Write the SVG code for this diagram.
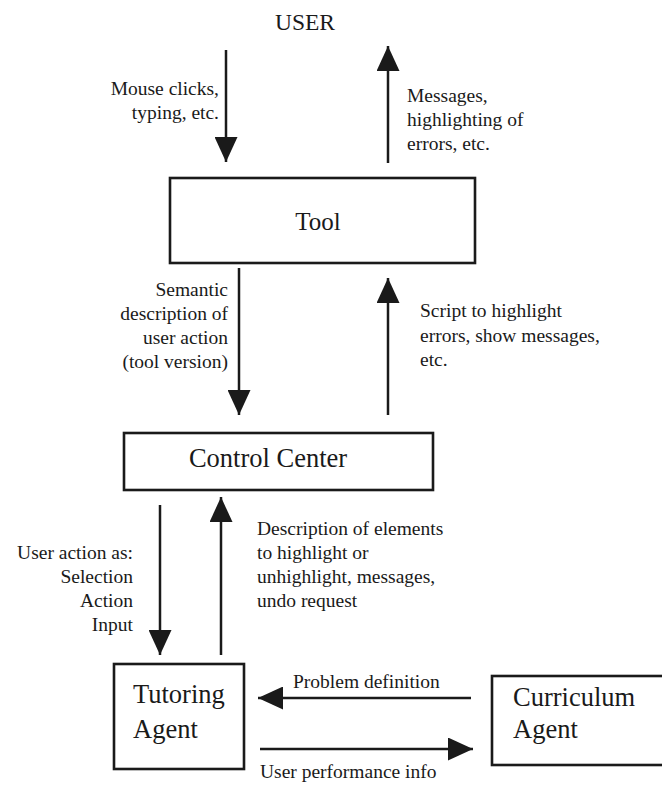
<svg xmlns="http://www.w3.org/2000/svg" width="662" height="786" viewBox="0 0 662 786">
<style>
text { fill: #1a1a1a; }
.lbl { font-size: 19.5px; }
.node { font-size: 26.5px; }
.box { fill: #ffffff; stroke: #1a1a1a; stroke-width: 2.6; }
.edge { stroke: #1a1a1a; stroke-width: 2.5; fill: none; marker-end: url(#ah); }
.r { text-anchor: end; }
.m { text-anchor: middle; }
</style>
<defs>
<marker id="ah" markerUnits="userSpaceOnUse" markerWidth="26" markerHeight="23" refX="25" refY="11.5" orient="auto">
<path d="M0,0 L25,11.5 L0,23 Z" fill="#1a1a1a"/>
</marker>
</defs>
<rect width="662" height="786" fill="#ffffff"/>
<g font-family="'Liberation Serif', 'DejaVu Serif', serif">

<g id="user"><text class="m" x="305" y="30" style="font-size:23.5px">USER</text></g>

<g id="tool">
<rect class="box" x="170" y="178" width="305" height="85"/>
<text class="node m" x="318" y="230" style="font-size:25px">Tool</text>
</g>

<g id="control-center">
<rect class="box" x="124" y="433" width="309" height="57"/>
<text class="node m" x="268" y="467">Control Center</text>
</g>

<g id="tutoring-agent">
<rect class="box" x="114" y="664" width="130" height="105"/>
<text class="node" x="133" y="703">Tutoring</text>
<text class="node" x="133" y="738">Agent</text>
</g>

<g id="curriculum-agent">
<rect class="box" x="492" y="676" width="175" height="89"/>
<text class="node" x="513" y="706">Curriculum</text>
<text class="node" x="513" y="738">Agent</text>
</g>

<g id="connectors">
<line class="edge" x1="226" y1="50" x2="226" y2="162"/>
<line class="edge" x1="388" y1="163" x2="388" y2="46"/>
<line class="edge" x1="239" y1="268" x2="239" y2="415"/>
<line class="edge" x1="388" y1="415" x2="388" y2="278"/>
<line class="edge" x1="160" y1="505" x2="160" y2="655"/>
<line class="edge" x1="221" y1="655" x2="221" y2="497"/>
<line class="edge" x1="471" y1="698" x2="258" y2="698"/>
<line class="edge" x1="260" y1="749" x2="473" y2="749"/>
</g>

<g id="labels">
<text class="lbl r" x="219" y="95">Mouse clicks,</text>
<text class="lbl r" x="219" y="119">typing, etc.</text>
<text class="lbl" x="407" y="102">Messages,</text>
<text class="lbl" x="407" y="126">highlighting of</text>
<text class="lbl" x="407" y="150">errors, etc.</text>
<text class="lbl r" x="228" y="296">Semantic</text>
<text class="lbl r" x="228" y="320">description of</text>
<text class="lbl r" x="228" y="344">user action</text>
<text class="lbl r" x="228" y="368">(tool version)</text>
<text class="lbl" x="420" y="317">Script to highlight</text>
<text class="lbl" x="420" y="342">errors, show messages,</text>
<text class="lbl" x="420" y="366">etc.</text>
<text class="lbl r" x="133" y="559">User action as:</text>
<text class="lbl r" x="133" y="583">Selection</text>
<text class="lbl r" x="133" y="607">Action</text>
<text class="lbl r" x="133" y="631">Input</text>
<text class="lbl" x="257" y="535">Description of elements</text>
<text class="lbl" x="257" y="559">to highlight or</text>
<text class="lbl" x="257" y="583">unhighlight, messages,</text>
<text class="lbl" x="257" y="607">undo request</text>
<text class="lbl" x="293" y="688">Problem definition</text>
<text class="lbl" x="260" y="778">User performance info</text>
</g>
</g>
</svg>
